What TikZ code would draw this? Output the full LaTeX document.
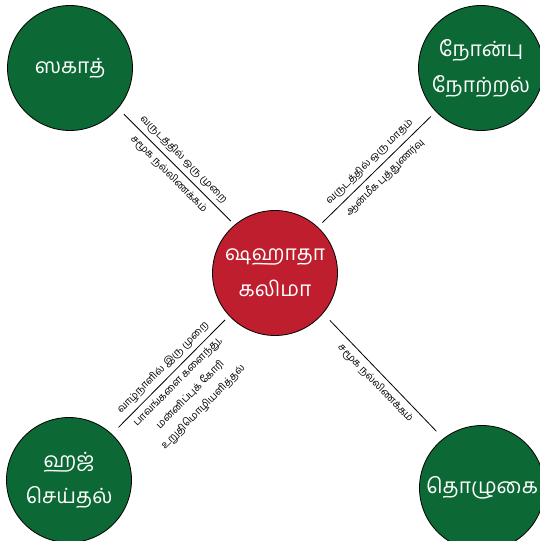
\documentclass[tikz,border=0pt]{standalone}
\usepackage{fontspec}
\newfontfamily\tam[Script=Tamil]{Hind Madurai}
\definecolor{pillar}{RGB}{12,104,52}
\definecolor{core}{RGB}{190,30,45}
\begin{document}
\begin{tikzpicture}[x=1pt,y=-1pt,
  bubble/.style={circle, draw=black, line width=0.8pt, minimum size=125pt, inner sep=0pt, text=white, align=center, font=\tam\fontsize{21}{36}\selectfont},
  link/.style={draw=black, line width=0.8pt},
  lbl/.style={font=\tam\fontsize{10.3}{18}\selectfont, sloped, midway, inner sep=1pt, align=center, text=black}]
\useasboundingbox (0,0) rectangle (540,541);
\node[bubble, fill=core] (c) at (275,273) {ஷஹாதா\\கலிமா};
\node[bubble, fill=pillar] (tl) at (70,68) {ஸகாத்};
\node[bubble, fill=pillar] (tr) at (481,68) {நோன்பு\\நோற்றல்};
\node[bubble, fill=pillar] (bl) at (69,480) {ஹஜ்\\செய்தல்};
\node[bubble, fill=pillar] (br) at (482,488) {தொழுகை};
\draw[link, shorten <=8.2pt, shorten >=5.4pt] (tl.-40) -- (c.130)
  node[lbl, above=3.5pt] {வருடத்தில் ஒரு முறை}
  node[lbl, below=4pt] {சமூக நல்லிணக்கம்};
\draw[link, shorten <=6.8pt, shorten >=6.3pt] (tr.-136) -- (c.47)
  node[lbl, above=3.5pt] {வருடத்தில் ஒரு மாதம்}
  node[lbl, below=4pt] {ஆன்மீக புத்துணர்வு};
\draw[link, shorten <=9.3pt, shorten >=5.6pt] (bl.47) -- (c.-137)
  node[lbl, above=3.5pt] {வாழ்நாளில் இரு முறை}
  node[lbl, below=4pt] {பாவங்களை களைந்து,\\மன்னிப்புக் கோரி\\உறுதிமொழியளித்தல்};
\draw[link, shorten <=10pt, shorten >=9.7pt] (br.128) -- (c.-40)
  node[lbl, below=4pt] {சமூக நல்லிணக்கம்};
\end{tikzpicture}
\end{document}
